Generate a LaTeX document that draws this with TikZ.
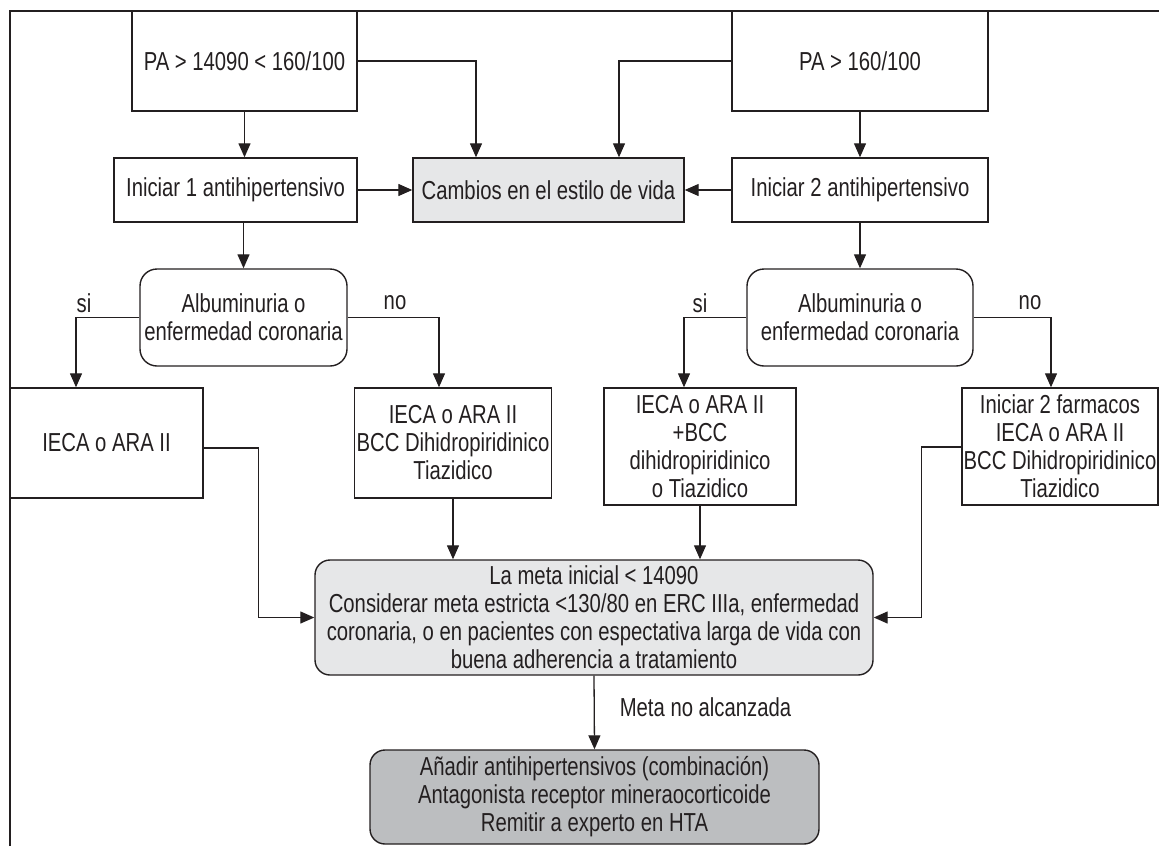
\documentclass[tikz,border=0pt]{standalone}
\usepackage{fontspec}
\setmainfont{Liberation Sans}[FakeStretch=0.78]
\usetikzlibrary{arrows.meta}
\definecolor{ink}{HTML}{231F20}
\definecolor{softgray}{HTML}{E6E7E8}
\definecolor{midgray}{HTML}{BCBEC0}

\begin{document}
\begin{tikzpicture}[x=1pt, y=-1pt,
    font=\fontsize{26}{28}\selectfont, text=ink,
    box/.style={draw=ink, line width=1.4pt, align=center, inner sep=2pt},
    decision/.style={box, rounded corners=17pt},
    goal/.style={box, rounded corners=15pt},
    arr/.style={draw=ink, line width=1.3pt, -{Triangle[length=14pt,width=12pt]}},
    plain/.style={draw=ink, line width=1.3pt}]
    \useasboundingbox (0,0) rectangle (1159,846);
    \clip (0,0) rectangle (1159,846);
    % outer frame
    \draw[plain] (10,846) -- (10,11) -- (1159,11);

    % first rows
    \node[box, minimum width=225pt, minimum height=100pt] (pa1) at (244.5,61) {PA > 14090 < 160/100};
    \node[box, minimum width=256pt, minimum height=100pt] (pa2) at (860,61) {PA > 160/100};
    \node[box, minimum width=243pt, minimum height=64pt] (ini1) at (235.5,190) {Iniciar 1 antihipertensivo};
    \node[box, fill=softgray, minimum width=271pt, minimum height=64pt] (cambios) at (548.5,190) {Cambios en el estilo de vida};
    \node[box, minimum width=256pt, minimum height=64pt] (ini2) at (860,190) {Iniciar 2 antihipertensivo};

    % decisions
    \node[decision, minimum width=207pt, minimum height=97pt] (dec1) at (243.5,317.5) {Albuminuria o\\enfermedad coronaria};
    \node[decision, minimum width=226pt, minimum height=97pt] (dec2) at (860,317.5) {Albuminuria o\\enfermedad coronaria};
    \node (si1) at (84,303) {si};
    \node (no1) at (395,303) {no};
    \node (si2) at (700,303) {si};
    \node (no2) at (1030,303) {no};

    % treatments
    \node[box, minimum width=193pt, minimum height=110pt] (ieca1) at (106.5,443) {IECA o ARA II};
    \node[box, minimum width=192pt, minimum height=110pt] (ieca2) at (453,443) {IECA o ARA II\\BCC Dihidropiridinico\\Tiazidico};
    \node[box, minimum width=192pt, minimum height=117pt] (ieca3) at (700,446.5) {IECA o ARA II\\+BCC\\dihidropiridinico\\o Tiazidico};
    \node[box, minimum width=196pt, minimum height=117pt, inner sep=1pt] (farm) at (1060,446.5) {Iniciar 2 farmacos\\IECA o ARA II\\BCC Dihidropiridinico\\Tiazidico};

    % goals
    \node[goal, fill=softgray, minimum width=558pt, minimum height=115pt] (meta) at (594,617.5) {La meta inicial < 14090\\Considerar meta estricta <130/80 en ERC IIIa, enfermedad\\coronaria, o en pacientes con espectativa larga de vida con\\buena adherencia a tratamiento};
    \node[goal, fill=midgray, minimum width=449pt, minimum height=94pt] (anadir) at (594.5,797) {Añadir antihipertensivos (combinación)\\Antagonista receptor mineraocorticoide\\Remitir a experto en HTA};
    \node (noalc) at (705.5,707) {Meta no alcanzada};

    % connectors
    \draw[arr] (pa1.south) -- (pa1.south |- ini1.north);
    \draw[arr] (pa2.south) -- (pa2.south |- ini2.north);
    \draw[arr] (pa1.east) -| ([xshift=-72.5pt]cambios.north);
    \draw[arr] (pa2.west) -| ([xshift=70.5pt]cambios.north);
    \draw[arr] (ini1.east) -- (cambios.west);
    \draw[arr] (ini2.west) -- (cambios.east);
    \draw[arr] (dec1.north |- ini1.south) -- (dec1.north);
    \draw[arr] (ini2.south) -- (dec2.north);
    \draw[arr] (dec1.west) -| ([xshift=-30.5pt]ieca1.north);
    \draw[arr] (dec1.east) -| ([xshift=-14pt]ieca2.north);
    \draw[arr] (dec2.west) -| ([xshift=-16pt]ieca3.north);
    \draw[arr] (dec2.east) -| ([xshift=-9pt]farm.north);
    \draw[arr] ([yshift=-5pt]ieca1.east) -- ++(55,0) |- (meta.west);
    \draw[arr] (ieca2.south) -- (ieca2.south |- meta.north);
    \draw[arr] (ieca3.south) -- (ieca3.south |- meta.north);
    \draw[arr] ([yshift=-0.5pt]farm.west) -- ++(-40,0) |- (meta.east);
    \draw[arr] (meta.south) -- (anadir.north);
\end{tikzpicture}
\end{document}
